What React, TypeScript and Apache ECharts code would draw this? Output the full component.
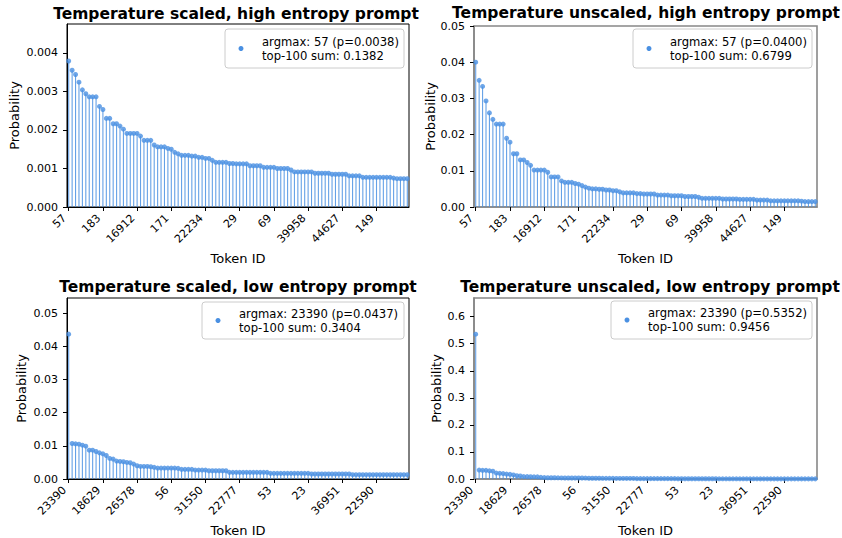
import React, { useEffect, useRef } from "react";
import * as echarts from "echarts";

// ---------- data ----------
const highTickLabels = ["57", "183", "16912", "171", "22234", "29", "69", "39958", "44627", "149"];
const lowTickLabels = ["23390", "18629", "26578", "56", "31550", "22777", "53", "23", "36951", "22590"];

const scaledHigh = [
  0.00379, 0.00355, 0.00344, 0.00324, 0.00304, 0.00294, 0.00286, 0.00286, 0.00286, 0.00261,
  0.00253, 0.0023, 0.0023, 0.00216, 0.00216, 0.0021, 0.00202, 0.00191, 0.00191, 0.00191,
  0.00191, 0.00184, 0.00173, 0.00173, 0.00173, 0.00161, 0.00156, 0.00156, 0.00156, 0.00152,
  0.0015, 0.00142, 0.00138, 0.00134, 0.00134, 0.00134, 0.00132, 0.00132, 0.00129, 0.00129,
  0.00126, 0.00126, 0.00121, 0.00116, 0.00116, 0.00116, 0.00116, 0.00113, 0.00113, 0.00112,
  0.00112, 0.00112, 0.00112, 0.00107, 0.00107, 0.00107, 0.00107, 0.00103, 0.00103, 0.00103,
  0.00103, 0.001, 0.001, 0.001, 0.001, 0.00096, 0.00091, 0.00091, 0.00091, 0.00091,
  0.00091, 0.00091, 0.000875, 0.000875, 0.000875, 0.000875, 0.000875, 0.00085, 0.00085, 0.00085,
  0.00085, 0.00085, 0.00081, 0.00081, 0.00081, 0.00081, 0.00077, 0.00077, 0.00077, 0.00077,
  0.00077, 0.00077, 0.00077, 0.00077, 0.00077, 0.00075, 0.000735, 0.000735, 0.000735, 0.000735,
];

const unscaledHigh = [
  0.04, 0.035, 0.0333, 0.0293, 0.026, 0.0242, 0.0229, 0.0229, 0.0229, 0.019,
  0.0179, 0.0147, 0.0147, 0.013, 0.013, 0.0123, 0.0115, 0.0102, 0.0102, 0.0102,
  0.0102, 0.0096, 0.0083, 0.0083, 0.0083, 0.0072, 0.0068, 0.0068, 0.0068, 0.0065,
  0.0063, 0.0059, 0.0055, 0.0052, 0.005, 0.005, 0.0049, 0.0049, 0.0047, 0.0047,
  0.0045, 0.0045, 0.0042, 0.0039, 0.0039, 0.0039, 0.0039, 0.0037, 0.0037, 0.0036,
  0.0036, 0.0036, 0.0036, 0.0033, 0.0033, 0.0033, 0.0033, 0.0031, 0.0031, 0.0031,
  0.0031, 0.0029, 0.0029, 0.0029, 0.0029, 0.0027, 0.0024, 0.0024, 0.0024, 0.0024,
  0.0024, 0.0024, 0.0022, 0.0022, 0.0022, 0.0022, 0.0022, 0.0021, 0.0021, 0.0021,
  0.0021, 0.0021, 0.0019, 0.0019, 0.0019, 0.0019, 0.0017, 0.0017, 0.0017, 0.0017,
  0.0017, 0.0017, 0.0017, 0.0017, 0.0017, 0.0016, 0.0015, 0.0015, 0.0015, 0.0015,
];

const scaledLow = [
  0.0437, 0.0107, 0.0106, 0.0105, 0.0102, 0.0099, 0.0087, 0.0087, 0.0083, 0.0079,
  0.0076, 0.0071, 0.0062, 0.006, 0.0054, 0.0053, 0.0052, 0.005, 0.0049, 0.0045,
  0.004, 0.0038, 0.0038, 0.0038, 0.0037, 0.0035, 0.0033, 0.0033, 0.0033, 0.0033,
  0.0033, 0.0033, 0.0032, 0.0029, 0.0029, 0.0029, 0.0029, 0.0027, 0.0027, 0.0027,
  0.0027, 0.0025, 0.0025, 0.0025, 0.0025, 0.0025, 0.0025, 0.002, 0.002, 0.002,
  0.002, 0.002, 0.002, 0.002, 0.002, 0.002, 0.002, 0.002, 0.002, 0.0017,
  0.0017, 0.0017, 0.0017, 0.0017, 0.0017, 0.0017, 0.0017, 0.0017, 0.0017, 0.0017,
  0.0017, 0.0015, 0.0015, 0.0015, 0.0015, 0.0015, 0.0015, 0.0015, 0.0015, 0.0015,
  0.0015, 0.0015, 0.0015, 0.0013, 0.0013, 0.0013, 0.0013, 0.0013, 0.0013, 0.0013,
  0.0013, 0.0013, 0.0013, 0.0013, 0.0013, 0.0013, 0.0013, 0.0013, 0.0013, 0.0013,
];

const unscaledLow = [
  0.5352, 0.033, 0.032, 0.032, 0.03, 0.029, 0.022, 0.021, 0.02, 0.018,
  0.017, 0.015, 0.012, 0.011, 0.009, 0.0087, 0.0084, 0.008, 0.0078, 0.0062,
  0.0052, 0.0047, 0.0046, 0.0045, 0.0044, 0.004, 0.0036, 0.0036, 0.0036, 0.0036,
  0.0036, 0.0036, 0.0034, 0.0028, 0.0028, 0.0028, 0.0028, 0.0025, 0.0025, 0.0025,
  0.0025, 0.0021, 0.0021, 0.0021, 0.0021, 0.0021, 0.0021, 0.0013, 0.0013, 0.0013,
  0.0013, 0.0013, 0.0013, 0.0013, 0.0013, 0.0013, 0.0013, 0.0013, 0.0013, 0.0009,
  0.0009, 0.0009, 0.0009, 0.0009, 0.0009, 0.0009, 0.0009, 0.0009, 0.0009, 0.0009,
  0.0009, 0.0007, 0.0007, 0.0007, 0.0007, 0.0007, 0.0007, 0.0007, 0.0007, 0.0007,
  0.0007, 0.0007, 0.0007, 0.0005, 0.0005, 0.0005, 0.0005, 0.0005, 0.0005, 0.0005,
  0.0005, 0.0005, 0.0005, 0.0005, 0.0005, 0.0005, 0.0005, 0.0005, 0.0005, 0.0005,
];

const titles = [
  "Temperature scaled, high entropy prompt",
  "Temperature unscaled, high entropy prompt",
  "Temperature scaled, low entropy prompt",
  "Temperature unscaled, low entropy prompt",
];
const legendLabels = [
  "argmax: 57 (p=0.0038)\ntop-100 sum: 0.1382",
  "argmax: 57 (p=0.0400)\ntop-100 sum: 0.6799",
  "argmax: 23390 (p=0.0437)\ntop-100 sum: 0.3404",
  "argmax: 23390 (p=0.5352)\ntop-100 sum: 0.9456",
];
const yMaxes = [0.00475, 0.05, 0.0546, 0.669];
const yIntervals = [0.001, 0.01, 0.01, 0.1];
const yDecimals = [3, 2, 2, 1];

// ---------- layout / style ----------
const FONT = "DejaVu Sans";
const MARKER = "#4a90e2";
const STEM = "rgba(74,144,226,0.85)";

const panels = [
  { values: scaledHigh, ticks: highTickLabels, grid: { left: 67, top: 24, width: 342, height: 183 }, spine: "#000", spineW: 1, titleX: 236, titleY: 14, legend: { x: 225, y: 29, w: 179, h: 39 }, yGap: 46 },
  { values: unscaledHigh, ticks: highTickLabels, grid: { left: 474, top: 26, width: 343, height: 181 }, spine: "#888", spineW: 1.6, titleX: 646, titleY: 12.5, legend: { x: 633, y: 29, w: 179, h: 39 }, yGap: 37 },
  { values: scaledLow, ticks: lowTickLabels, grid: { left: 67, top: 298, width: 342, height: 181 }, spine: "#000", spineW: 1, titleX: 238, titleY: 286.5, legend: { x: 202, y: 302, w: 202, h: 37 }, yGap: 39 },
  { values: unscaledLow, ticks: lowTickLabels, grid: { left: 474, top: 298, width: 343, height: 181 }, spine: "#888", spineW: 1.6, titleX: 650, titleY: 286.5, legend: { x: 611, y: 301, w: 201, h: 38 }, yGap: 31 },
];

function buildOption() {
  const grid: any[] = [];
  const xAxis: any[] = [];
  const yAxis: any[] = [];
  const series: any[] = [];
  const graphic: any[] = [];

  panels.forEach((p, k) => {
    const cats = p.values.map((_, i) => String(i));
    grid.push({
      ...p.grid,
      show: true,
      borderColor: p.spine,
      borderWidth: p.spineW,
      backgroundColor: "transparent",
      containLabel: false,
      outerBoundsMode: "none",
    });
    xAxis.push({
      type: "category",
      gridIndex: k,
      data: cats,
      boundaryGap: true,
      name: "Token ID",
      nameLocation: "middle",
      nameGap: 45,
      nameTextStyle: { fontFamily: FONT, fontSize: 13, color: "#000" },
      axisLine: { show: true, lineStyle: { color: p.spine, width: p.spineW } },
      axisTick: { show: true, alignWithLabel: true, interval: 9, length: 4, lineStyle: { color: "#000" } },
      axisLabel: {
        interval: 9,
        rotate: 45,
        margin: 5,
        padding: [0, 6, 0, 0],
        fontFamily: FONT,
        fontSize: 11,
        color: "#000",
        formatter: (_v: string, idx: number) => (idx % 10 === 0 ? p.ticks[idx / 10] : ""),
      },
      splitLine: { show: false },
    });
    yAxis.push({
      type: "value",
      gridIndex: k,
      min: 0,
      max: yMaxes[k],
      interval: yIntervals[k],
      name: "Probability",
      nameLocation: "middle",
      nameGap: p.yGap,
      nameTextStyle: { fontFamily: FONT, fontSize: 13, color: "#000" },
      axisLine: { show: true, lineStyle: { color: p.spine, width: p.spineW } },
      axisTick: { show: true, length: 4, lineStyle: { color: "#000" } },
      axisLabel: {
        margin: 9,
        fontFamily: FONT,
        fontSize: 11,
        lineHeight: 11,
        color: "#000",
        showMaxLabel: k === 1,
        formatter: (v: number) => v.toFixed(yDecimals[k]),
      },
      splitLine: { show: false },
    });
    series.push({
      type: "bar",
      name: "stem" + k,
      xAxisIndex: k,
      yAxisIndex: k,
      data: p.values,
      barWidth: 1.1,
      itemStyle: { color: STEM },
      silent: true,
    });
    series.push({
      type: "scatter",
      name: legendLabels[k],
      xAxisIndex: k,
      yAxisIndex: k,
      data: p.values,
      symbol: "circle",
      symbolSize: 5,
      itemStyle: { color: MARKER },
    });
    // legend box
    const L = p.legend;
    graphic.push({
      type: "group",
      x: L.x,
      y: L.y,
      z: 100,
      children: [
        {
          type: "rect",
          shape: { x: 0, y: 0, width: L.w, height: L.h, r: 3 },
          style: { fill: "rgba(255,255,255,0.8)", stroke: "#cccccc", lineWidth: 1 },
        },
        {
          type: "circle",
          shape: { cx: 16, cy: L.h / 2, r: 2.5 },
          style: { fill: MARKER },
        },
        {
          type: "text",
          x: 37,
          y: L.h / 2,
          style: {
            text: legendLabels[k],
            fontFamily: FONT,
            fontSize: 11.6,
            lineHeight: 14,
            fill: "#000",
            textAlign: "left",
            textVerticalAlign: "middle",
          },
        },
      ],
    });
    graphic.push({
      type: "text",
      x: p.titleX,
      y: p.titleY,
      style: {
        text: titles[k],
        fontFamily: FONT,
        fontWeight: "bold",
        fontSize: 15.5,
        lineHeight: 12,
        fill: "#000",
        textAlign: "center",
        textVerticalAlign: "middle",
      },
    });
  });

  return {
    animation: false,
    backgroundColor: "#fff",
    grid,
    xAxis,
    yAxis,
    series,
    graphic,
  };
}

export default function App() {
  const ref = useRef<HTMLDivElement>(null);
  useEffect(() => {
    if (!ref.current) return;
    const chart = echarts.init(ref.current, null, { renderer: "svg" });
    chart.setOption(buildOption() as any);
    return () => chart.dispose();
  }, []);
  return (
    <div
      ref={ref}
      style={{ position: "fixed", left: 0, top: 0, width: 842, height: 538, background: "#fff" }}
    />
  );
}
